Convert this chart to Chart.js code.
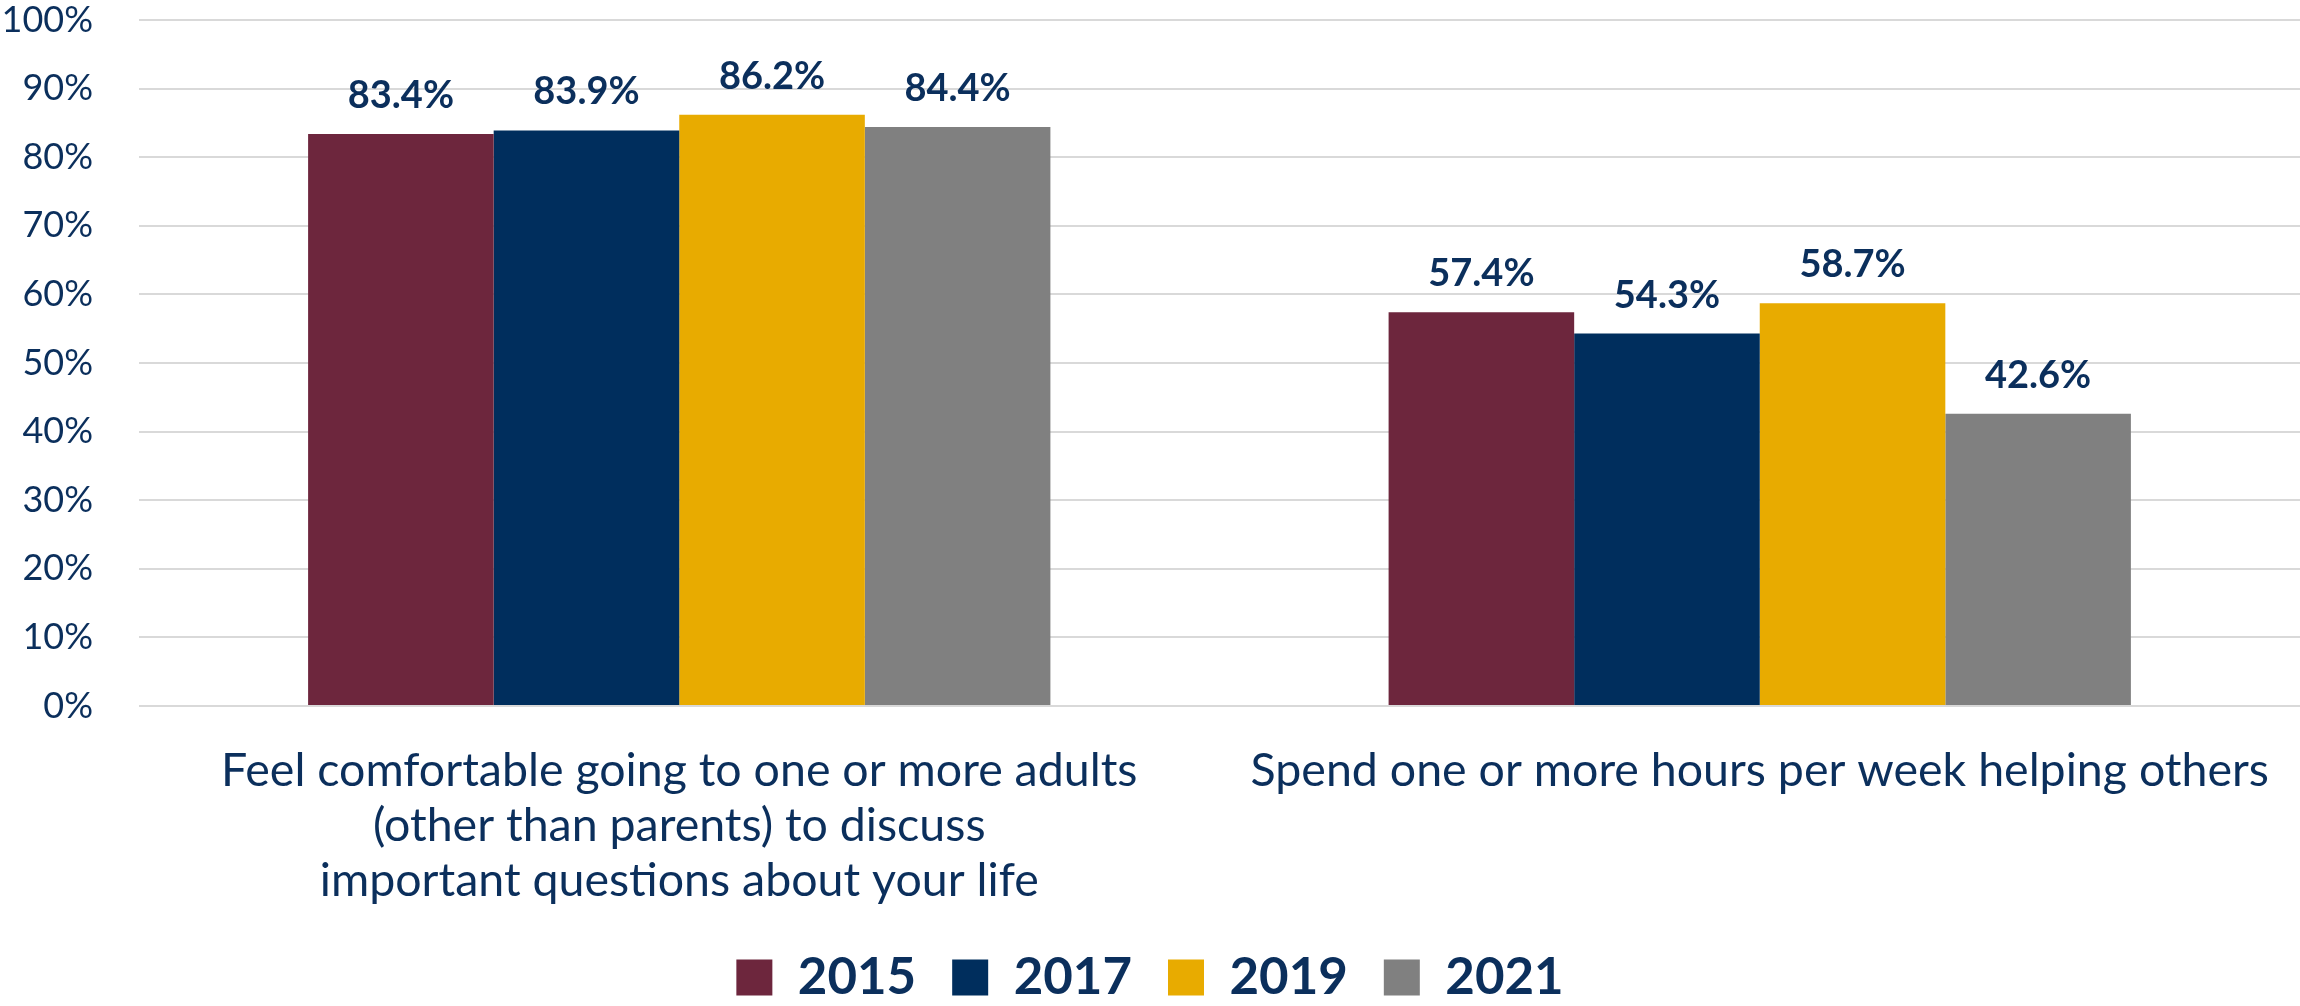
<!DOCTYPE html>
<html>
<head>
<meta charset="utf-8">
<script src="https://cdn.jsdelivr.net/npm/chart.js@4.4.1/dist/chart.umd.min.js"></script>
<style>
  html, body { margin: 0; padding: 0; background: #fff; }
  #wrap { width: 2300px; height: 1006px; }
</style>
</head>
<body>
<div id="wrap"><canvas id="chart_youth"></canvas></div>
<script>
const categories = [
    ['Feel comfortable going to one or more adults', '(other than parents) to discuss', 'important questions about your life'],
    'Spend one or more hours per week helping others'
];
const years = ['2015', '2017', '2019', '2021'];
const values2015 = [83.4, 57.4];
const values2017 = [83.9, 54.3];
const values2019 = [86.2, 58.7];
const values2021 = [84.4, 42.6];
const yTicks = [0, 10, 20, 30, 40, 50, 60, 70, 80, 90, 100];

const navy = '#0b2f5c';
const fontFamily = 'Lato, "Open Sans", sans-serif';

// draws the value above each bar
const barLabels = {
    id: 'barLabels',
    afterDatasetsDraw(chart) {
        const ctx = chart.ctx;
        ctx.save();
        ctx.font = 'bold 38px ' + fontFamily;
        ctx.fillStyle = navy;
        ctx.textAlign = 'center';
        ctx.textBaseline = 'alphabetic';
        chart.data.datasets.forEach((ds, i) => {
            chart.getDatasetMeta(i).data.forEach((bar, j) => {
                ctx.fillText(ds.data[j].toFixed(1) + '%', bar.x, bar.y - 26);
            });
        });
        ctx.restore();
    }
};

const ctxYouth = document.getElementById('chart_youth');
const youthChart = new Chart(ctxYouth, {
    type: 'bar',
    data: {
        labels: categories,
        datasets: [{
            label: years[0],
            data: values2015,
            backgroundColor: '#6d263d'
        },{
            label: years[1],
            data: values2017,
            backgroundColor: '#002e5d'
        },{
            label: years[2],
            data: values2019,
            backgroundColor: '#e8ab00'
        },{
            label: years[3],
            data: values2021,
            backgroundColor: '#808080'
        }]
    },
    options: {
        responsive: true,
        maintainAspectRatio: false,
        animation: false,
        layout: { padding: { top: 1, right: 0, bottom: 0, left: 0 } },
        datasets: {
            bar: { categoryPercentage: 0.687, barPercentage: 1.0 }
        },
        scales: {
            x: {
                grid: { display: false },
                border: { display: false },
                ticks: {
                    color: navy,
                    font: { family: fontFamily, size: 46.5, lineHeight: 1.183 },
                    padding: 29,
                    maxRotation: 0,
                    autoSkip: false
                },
                afterFit(scale) { scale.height = 210; }
            },
            y: {
                min: 0,
                max: 100,
                afterBuildTicks(scale) { scale.ticks = yTicks.map(v => ({ value: v })); },
                grid: { color: '#d9d9d9', lineWidth: 2, drawTicks: false },
                border: { display: false },
                ticks: {
                    color: navy,
                    font: { family: fontFamily, size: 36 },
                    padding: 46,
                    callback: v => v + '%'
                },
                afterFit(scale) {
                    scale.width = 139;
                    scale.paddingTop = 20;
                    scale.paddingBottom = 20;
                }
            }
        },
        plugins: {
            tooltip: { enabled: false },
            legend: {
                position: 'bottom',
                maxHeight: 90,
                labels: {
                    color: navy,
                    font: { family: fontFamily, size: 51, weight: 'bold' },
                    boxWidth: 36,
                    boxHeight: 36,
                    padding: 36
                }
            }
        }
    },
    plugins: [barLabels]
});
</script>
</body>
</html>
